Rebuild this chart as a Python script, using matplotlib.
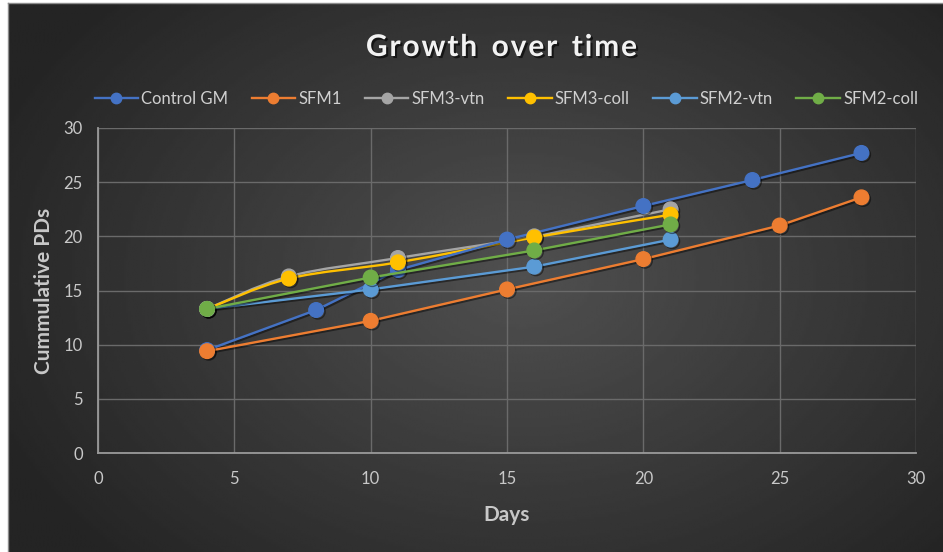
import numpy as np
import matplotlib
matplotlib.use("Agg")
import matplotlib.pyplot as plt
import matplotlib.patheffects as pe
from matplotlib.path import Path
from matplotlib.patches import PathPatch
from matplotlib.lines import Line2D

plt.rcParams['font.family'] = ['Lato', 'DejaVu Sans']

# cumulative population doublings per condition
names = ["Control GM", "SFM1", "SFM3-vtn", "SFM3-coll", "SFM2-vtn", "SFM2-coll"]
colors = ["#4472C4", "#ED7D31", "#A5A5A5", "#FFC000", "#5B9BD5", "#70AD47"]
smooth = [False, False, True, True, False, False]

control_days = [4, 8, 11, 15, 20, 24, 28]
control_pds = [9.5, 13.2, 16.9, 19.7, 22.8, 25.2, 27.7]
sfm1_days = [4, 10, 15, 20, 25, 28]
sfm1_pds = [9.4, 12.2, 15.1, 17.9, 21.0, 23.6]
sfm3_vtn_days = [4, 7, 11, 16, 21]
sfm3_vtn_pds = [13.3, 16.3, 18.0, 20.0, 22.5]
sfm3_coll_days = [4, 7, 11, 16, 21]
sfm3_coll_pds = [13.3, 16.1, 17.6, 19.9, 22.0]
sfm2_vtn_days = [4, 10, 16, 21]
sfm2_vtn_pds = [13.3, 15.1, 17.2, 19.7]
sfm2_coll_days = [4, 10, 16, 21]
sfm2_coll_pds = [13.3, 16.2, 18.7, 21.1]

series_x = [control_days, sfm1_days, sfm3_vtn_days, sfm3_coll_days, sfm2_vtn_days, sfm2_coll_days]
series_y = [control_pds, sfm1_pds, sfm3_vtn_pds, sfm3_coll_pds, sfm2_vtn_pds, sfm2_coll_pds]


def smooth_path(xs, ys):
    # cubic bezier through the points, spreadsheet-style smoothed line
    pts = np.column_stack([xs, ys]).astype(float)
    verts = [pts[0]]
    codes = [Path.MOVETO]
    n = len(pts)
    for i in range(n - 1):
        p0 = pts[i - 1] if i > 0 else pts[i]
        p1 = pts[i]
        p2 = pts[i + 1]
        p3 = pts[i + 2] if i + 2 < n else pts[i + 1]
        c1 = p1 + (p2 - p0) / 6.0
        c2 = p2 - (p3 - p1) / 6.0
        verts += [c1, c2, p2]
        codes += [Path.CURVE4] * 3
    return Path(verts, codes)


W, H = 943, 552
fig = plt.figure(figsize=(W / 100, H / 100), dpi=100, facecolor="white")

# dark radial backdrop
bg = fig.add_axes([8 / W, 0, 1 - 8 / W, 1 - 3 / H], zorder=-10)
gx, gy = np.meshgrid(np.linspace(0, 1, 400), np.linspace(0, 1, 240))
r = np.sqrt(((gx - 0.55) / 0.62) ** 2 + ((gy - 0.5) / 0.75) ** 2)
shade = np.clip(80 - 44 * r, 36, 80) / 255.0
bg.imshow(shade, cmap="gray", vmin=0, vmax=1, aspect="auto", extent=[0, 1, 0, 1],
          interpolation="bilinear")
bg.set_xticks([])
bg.set_yticks([])
for s in ["right", "bottom"]:
    bg.spines[s].set_visible(False)
for s in ["left", "top"]:
    bg.spines[s].set_color("#8c8c8c")
    bg.spines[s].set_linewidth(1.0)

ax = fig.add_axes([98 / W, 1 - 453 / H, (916 - 98) / W, (453 - 128) / H])
ax.set_facecolor("none")
ax.set_xlim(0, 30)
ax.set_ylim(0, 30)
ax.set_xticks(range(0, 31, 5))
ax.set_yticks(range(0, 31, 5))
ax.grid(True, color="#6a6a6a", linewidth=1.0)
ax.set_axisbelow(True)
for s in ["top", "right"]:
    ax.spines[s].set_visible(False)
for s in ["left", "bottom"]:
    ax.spines[s].set_color("#9a9a9a")
    ax.spines[s].set_linewidth(1.3)
ax.tick_params(length=0, colors="#c8c8c8", labelsize=12)
ax.tick_params(axis="x", pad=13)
ax.tick_params(axis="y", pad=11)

shadow = [pe.SimpleLineShadow(offset=(1.2, -1.2), shadow_color="black", alpha=0.45),
          pe.Normal()]

handles = []
for xs, ys, col, name, sm in zip(series_x, series_y, colors, names, smooth):
    if sm:
        patch = PathPatch(smooth_path(xs, ys), facecolor="none", edgecolor=col,
                          linewidth=1.7, zorder=3)
        ax.add_patch(patch)
        ax.plot(xs, ys, linestyle="none", marker="o", markersize=10.5, color=col,
                markeredgecolor=col, zorder=4, path_effects=shadow)
    else:
        ax.plot(xs, ys, color=col, linewidth=1.7, marker="o", markersize=10.5,
                markeredgecolor=col, zorder=4, path_effects=shadow)
    handles.append(Line2D([], [], color=col, linewidth=1.7, marker="o", markersize=7.5,
                          markeredgecolor=col, label=name))

ax.set_xlabel("Days", color="#c8c8c8", fontsize=15, fontweight="bold", labelpad=13)
ax.set_ylabel("Cummulative PDs", color="#c8c8c8", fontsize=15, fontweight="bold", labelpad=7)

title = "\u200a".join("Growth over time").replace("\u200a \u200a", "  ")
fig.text(0.532, 1 - 47 / H, title,
         ha="center", va="center", color="#f2f2f2", fontsize=21.5, fontweight="bold",
         path_effects=[pe.withSimplePatchShadow(offset=(1.5, -1.5), shadow_rgbFace="black", alpha=0.6)])

leg = fig.legend(handles=handles, loc="center", bbox_to_anchor=(0.537, 1 - 99 / H), ncol=6,
                 frameon=False, fontsize=12, handlelength=2.6, handletextpad=0.2,
                 columnspacing=1.4, labelcolor="#d0d0d0")

fig.savefig("out.png", dpi=100, facecolor=fig.get_facecolor())
